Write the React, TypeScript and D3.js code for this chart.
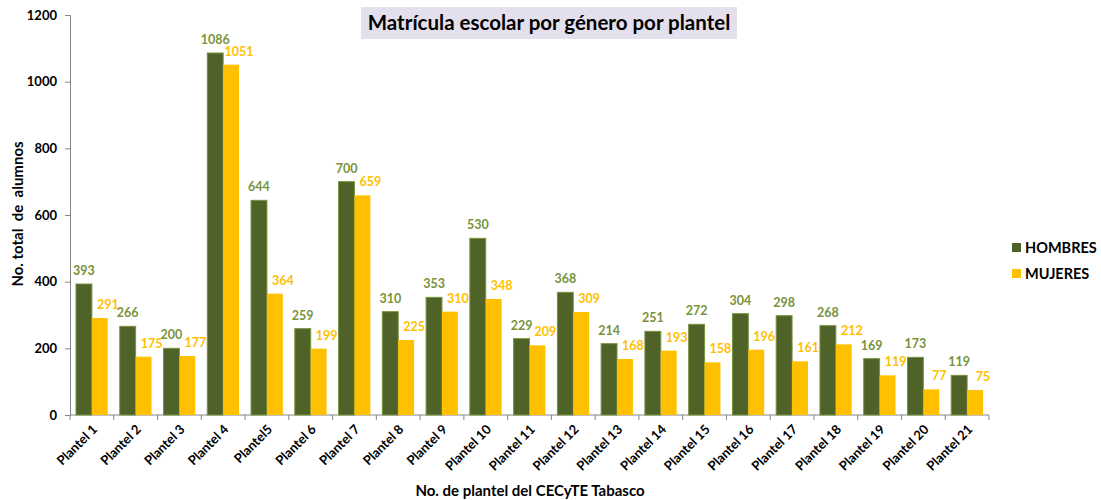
import { useEffect, useRef } from 'react';
import * as d3 from 'd3';

// Chart data
const planteles = [
  'Plantel 1', 'Plantel 2', 'Plantel 3', 'Plantel 4', 'Plantel5', 'Plantel 6', 'Plantel 7',
  'Plantel 8', 'Plantel 9', 'Plantel 10', 'Plantel 11', 'Plantel 12', 'Plantel 13', 'Plantel 14',
  'Plantel 15', 'Plantel 16', 'Plantel 17', 'Plantel 18', 'Plantel 19', 'Plantel 20', 'Plantel 21',
];
const hombres = [393, 266, 200, 1086, 644, 259, 700, 310, 353, 530, 229, 368, 214, 251, 272, 304, 298, 268, 169, 173, 119];
const mujeres = [291, 175, 177, 1051, 364, 199, 659, 225, 310, 348, 209, 309, 168, 193, 158, 196, 161, 212, 119, 77, 75];
const yTicks = [0, 200, 400, 600, 800, 1000, 1200];
const seriesNames = ['HOMBRES', 'MUJERES'];

const GREEN = '#4f6228';
const GREEN_EDGE = '#77933c';
const YELLOW = '#ffc000';
const FONT = 'Lato, "Open Sans", sans-serif';

const App = () => {
  const svgRef = useRef<SVGSVGElement | null>(null);

  useEffect(() => {
    const width = 1101;
    const height = 500;
    const marginLeft = 70;
    const plotRight = 989;
    const plotTop = 15;
    const plotBottom = 415;

    const svg = d3.select(svgRef.current);
    svg.selectAll('*').remove();
    svg.attr('width', width).attr('height', height).style('font-family', FONT);

    // Scales
    const x = d3.scaleBand().domain(planteles).range([marginLeft, plotRight]).paddingInner(0).paddingOuter(0);
    const inner = d3.scaleBand().domain(seriesNames).range([6, x.bandwidth() - 6]).padding(0);
    const y = d3.scaleLinear().domain([0, 1200]).range([plotBottom, plotTop]);

    // Title box
    const tg = svg.append('g');
    tg.append('rect').attr('x', 361).attr('y', 7).attr('width', 376).attr('height', 32).attr('fill', '#e4dfec');
    tg.append('text')
      .attr('x', 549).attr('y', 30)
      .attr('text-anchor', 'middle')
      .attr('font-size', 20.5).attr('font-weight', 700).attr('fill', '#000')
      .text('Matrícula escolar por género por plantel');

    // Y axis
    const yAxis = svg.append('g')
      .attr('transform', `translate(${marginLeft},0)`)
      .call(d3.axisLeft(y).tickValues(yTicks).tickFormat(d3.format('d')).tickSize(5).tickPadding(8));
    yAxis.select('.domain').attr('stroke', '#868686');
    yAxis.selectAll('line').attr('stroke', '#868686');
    yAxis.selectAll('text').attr('font-size', 13).attr('font-weight', 700).attr('fill', '#000').attr('font-family', FONT);

    // X axis (ticks at band boundaries)
    const xg = svg.append('g');
    xg.append('line').attr('x1', marginLeft).attr('x2', plotRight).attr('y1', plotBottom).attr('y2', plotBottom).attr('stroke', '#868686');
    const boundaries = planteles.map(p => x(p) as number).concat([plotRight]);
    xg.selectAll('line.tk').data(boundaries).join('line')
      .attr('class', 'tk')
      .attr('x1', d => d).attr('x2', d => d)
      .attr('y1', plotBottom).attr('y2', plotBottom + 5)
      .attr('stroke', '#868686');
    xg.selectAll('text').data(planteles).join('text')
      .attr('transform', d => `translate(${(x(d) as number) + x.bandwidth() / 2 + 3},${plotBottom + 12}) rotate(-45)`)
      .attr('text-anchor', 'end')
      .attr('dy', '0.35em')
      .attr('font-size', 13).attr('font-weight', 700).attr('fill', '#000')
      .text(d => d);

    // Bars
    const groups = svg.append('g').selectAll('g').data(planteles).join('g')
      .attr('transform', d => `translate(${x(d)},0)`);

    groups.append('rect')
      .attr('x', inner('HOMBRES') as number)
      .attr('y', (_, i) => y(hombres[i]))
      .attr('width', inner.bandwidth())
      .attr('height', (_, i) => y(0) - y(hombres[i]))
      .attr('fill', GREEN).attr('stroke', GREEN_EDGE).attr('stroke-width', 1);

    groups.append('rect')
      .attr('x', inner('MUJERES') as number)
      .attr('y', (_, i) => y(mujeres[i]))
      .attr('width', inner.bandwidth())
      .attr('height', (_, i) => y(0) - y(mujeres[i]))
      .attr('fill', YELLOW);

    // Value labels
    groups.append('text')
      .attr('x', (inner('HOMBRES') as number) + inner.bandwidth() / 2)
      .attr('y', (_, i) => y(hombres[i]) - 9)
      .attr('text-anchor', 'middle')
      .attr('font-size', 12.5).attr('font-weight', 700).attr('fill', GREEN_EDGE)
      .text((_, i) => hombres[i]);

    groups.append('text')
      .attr('x', (inner('MUJERES') as number) + inner.bandwidth() / 2 + 8)
      .attr('y', (_, i) => y(mujeres[i]) - 9)
      .attr('text-anchor', 'middle')
      .attr('font-size', 12.5).attr('font-weight', 700).attr('fill', YELLOW)
      .text((_, i) => mujeres[i]);

    // Axis titles
    svg.append('text')
      .attr('transform', `translate(23,214) rotate(-90)`)
      .attr('text-anchor', 'middle')
      .attr('font-size', 15).attr('font-weight', 700).attr('fill', '#000')
      .style('white-space', 'pre')
      .text('No. total  de  alumnos');

    svg.append('text')
      .attr('x', 530).attr('y', 496)
      .attr('text-anchor', 'middle')
      .attr('font-size', 15).attr('font-weight', 700).attr('fill', '#000')
      .text('No. de plantel del CECyTE Tabasco');

    // Legend
    const legendColors = [GREEN, YELLOW];
    const lg = svg.append('g').selectAll('g').data(seriesNames).join('g')
      .attr('transform', (_, i) => `translate(1012,${243 + i * 26})`);
    lg.append('rect').attr('width', 9).attr('height', 9).attr('fill', (_, i) => legendColors[i]);
    lg.append('text')
      .attr('x', 13).attr('y', 5).attr('dy', '0.35em')
      .attr('font-size', 14.5).attr('font-weight', 700).attr('fill', '#000')
      .text(d => d);
  }, []);

  return (
    <div style={{ position: 'absolute', left: 0, top: 0 }}>
      <svg ref={svgRef}></svg>
    </div>
  );
};

export default App;
